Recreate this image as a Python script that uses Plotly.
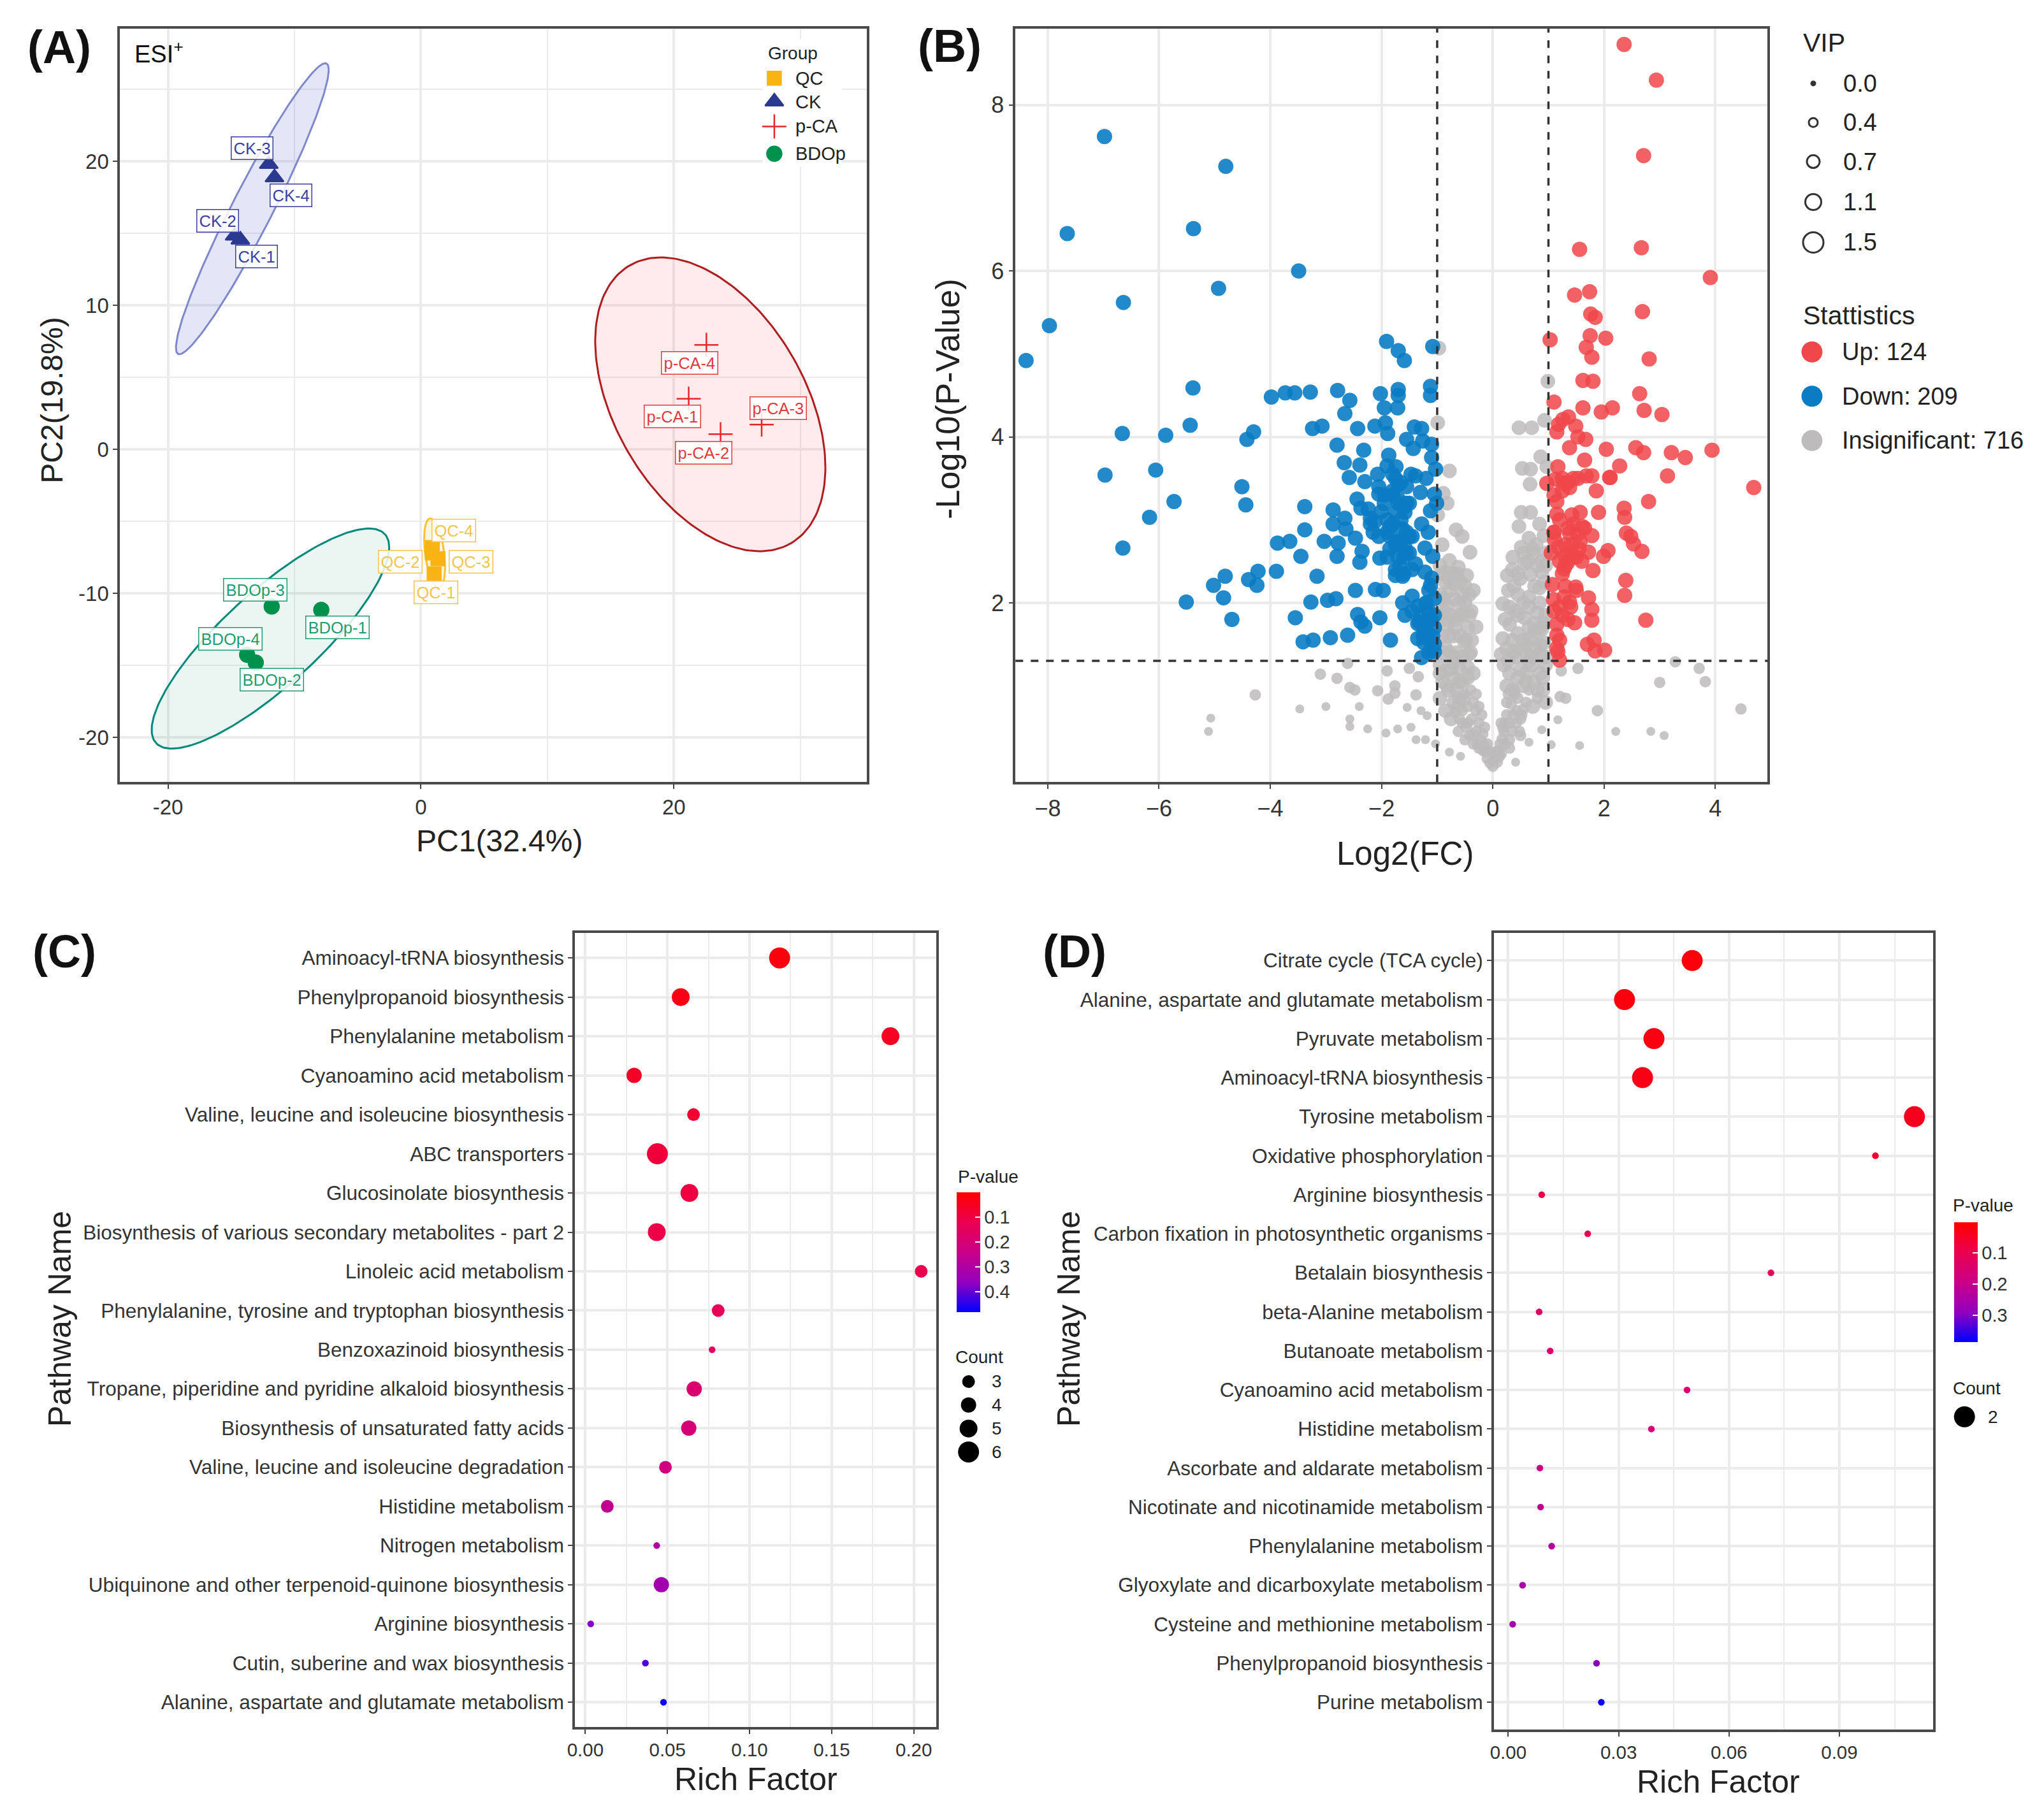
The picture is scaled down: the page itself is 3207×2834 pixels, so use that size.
import numpy as np
import plotly.graph_objects as go

W, H = 3207, 2834
S = W / 1568.0   # positions below are measured on a 1568 wide view
VH = H / S
FONT = "Liberation Sans"

# ---- panel A: PCA scores
pca_groups = ["QC", "CK", "p-CA", "BDOp"]
pca_x = {"QC": [1.04, 0.90, 1.35, 0.90], "CK": [-14.28, -14.73, -12.03, -11.58],
         "p-CA": [21.17, 23.69, 26.94, 22.57], "BDOp": [-7.88, -13.06, -11.80, -13.74]}
pca_y = {"QC": [-8.65, -7.20, -7.60, -6.82], "CK": [14.54, 14.82, 19.80, 18.87],
         "p-CA": [3.51, 1.05, 1.72, 7.25], "BDOp": [-11.15, -14.81, -10.92, -14.27]}
# sample tag centres, tags are numbered 1..4
tag_x = {"QC": [1.17, -1.62, 3.96, 2.61], "CK": [-13.02, -16.08, -13.33, -10.27],
         "p-CA": [19.86, 22.34, 28.24, 21.26], "BDOp": [-6.58, -11.80, -13.10, -15.05]}
tag_y = {"QC": [-9.94, -7.80, -7.80, -5.65], "CK": [13.37, 15.87, 20.90, 17.62],
         "p-CA": [2.30, -0.23, 2.85, 6.00], "BDOp": [-12.36, -15.98, -9.75, -13.14]}
# confidence ellipses: centre x, centre y, sd x, sd y, correlation
ellipses = {"QC": (1.08, -7.2, 0.83, 2.4, -0.4), "CK": (-13.33, 16.7, 6.04, 10.1, 0.955),
            "p-CA": (22.88, 3.12, 9.1, 10.2, -0.43), "BDOp": (-11.9, -13.14, 9.39, 7.64, 0.83)}
group_col = {"QC": "#F9B414", "CK": "#2B3990", "p-CA": "#E8262A", "BDOp": "#00914C"}
group_sym = {"QC": "square", "CK": "triangle-up", "p-CA": "cross-thin", "BDOp": "circle"}
group_size = {"QC": 21, "CK": 25, "p-CA": 27, "BDOp": 23}
ell_line = {"QC": "#F9C233", "CK": "#8088CC", "p-CA": "#B01C20", "BDOp": "#00897B"}
ell_fill = {"QC": "rgba(249,194,51,0.18)", "CK": "rgba(90,105,205,0.17)",
            "p-CA": "rgba(255,100,100,0.13)", "BDOp": "rgba(0,130,90,0.08)"}
tag_col = {"QC": "#F2C44C", "CK": "#3A3F9E", "p-CA": "#E03A3E", "BDOp": "#1E9E70"}

# ---- panel B: volcano
down_x = [-6.98, -4.80, -7.65, -5.38, -3.49, -4.93, -6.64, -7.97, -8.39, -5.39, -5.44, -6.66, -5.88, -6.06, -6.97,
          -5.73, -6.17, -6.65, -4.51, -4.44, -4.30, -4.42, -3.98, -3.73, -3.56, -3.28, -3.38, -3.38, -3.87, -3.65,
          -3.03, -3.45, -3.89, -4.22, -4.39, -4.24, -4.81, -5.02, -4.84, -5.51, -4.69, -3.16, -3.27, -3.55, -3.41,
          -3.23, -2.92, -1.91, -1.70, -1.59, -1.08, -2.79, -2.57, -2.66, -2.02, -1.70, -1.70, -1.95, -1.71, -1.12,
          -1.12, -3.24, -3.07, -2.43, -2.12, -1.93, -1.89, -1.41, -1.28, -1.55, -1.26, -1.43, -1.10, -1.10, -1.03,
          -2.80, -2.32, -2.67, -2.39, -2.58, -2.30, -1.87, -2.07, -1.74, -1.47, -1.39, -2.05, -1.70, -1.70, -1.30,
          -1.05, -2.44, -2.37, -2.24, -2.87, -2.87, -2.66, -2.64, -2.12, -1.74, -1.58, -1.85, -1.62, -1.28, -1.16,
          -1.12, -1.01, -2.47, -2.78, -2.80, -2.35, -2.39, -2.03, -1.74, -1.58, -1.85, -1.22, -1.08, -1.67, -1.75,
          -1.62, -1.39, -1.22, -2.97, -2.82, -2.47, -2.11, -1.97, -2.43, -2.37, -2.30, -2.03, -2.61, -1.84, -1.62,
          -1.45, -1.35, -1.58, -1.12, -1.05, -1.20, -1.32, -1.12, -1.35, -1.08, -1.24, -1.28, -1.05, -2.20, -2.00,
          -1.95, -1.80, -1.55, -1.50, -1.90, -1.60, -1.45, -1.20, -1.15, -1.05,
          -1.90, -1.80, -1.75, -1.65, -1.55, -1.80, -1.70, -1.60, -1.50, -1.90, -1.80, -1.65, -1.55, -1.45, -1.85,
          -1.75, -1.65, -1.55, -1.90, -1.70, -1.50, -1.75, -1.60, -2.05, -1.95, -2.20, -2.15, -2.05, -1.20, -1.15,
          -1.10, -1.05, -1.15, -1.05, -1.25, -1.10, -1.30, -1.20, -1.10, -1.45, -1.35, -1.25, -1.15]
down_y = [7.62, 7.26, 6.45, 6.51, 6.00, 5.79, 5.62, 5.34, 4.92, 4.59, 4.14, 4.04, 4.02, 3.60, 3.54,
          3.22, 3.03, 2.66, 3.40, 3.18, 4.06, 3.97, 4.48, 4.53, 4.53, 4.54, 3.16, 2.88, 2.72, 2.74,
          2.74, 2.56, 2.38, 2.38, 2.28, 2.21, 2.32, 2.21, 2.06, 2.01, 1.80, 2.32, 2.01, 1.82, 1.53,
          1.55, 1.58, 5.15, 5.04, 4.92, 5.09, 4.56, 4.44, 4.28, 4.52, 4.57, 4.50, 4.35, 4.35, 4.61,
          4.50, 4.10, 4.13, 4.10, 4.13, 4.17, 4.04, 4.12, 4.10, 3.97, 3.95, 3.86, 3.91, 3.75, 3.61,
          3.90, 3.84, 3.69, 3.66, 3.51, 3.46, 3.78, 3.55, 3.64, 3.55, 3.53, 3.31, 3.42, 3.25, 3.33,
          3.31, 3.25, 3.14, 3.13, 3.12, 2.95, 3.02, 2.89, 2.98, 3.09, 3.09, 2.92, 2.89, 2.95, 2.85,
          3.11, 3.20, 2.78, 2.72, 2.56, 2.62, 2.49, 2.54, 2.73, 2.67, 2.65, 2.66, 2.56, 2.45, 2.33,
          2.32, 2.47, 2.37, 2.03, 2.05, 2.15, 2.16, 2.15, 1.86, 1.77, 1.72, 1.82, 1.61, 1.55, 2.00,
          2.08, 1.96, 1.85, 2.21, 2.05, 1.99, 1.77, 1.79, 1.57, 1.60, 1.52, 1.34, 1.41, 3.02, 3.10,
          3.20, 3.35, 3.20, 2.80, 2.85, 2.55, 2.40, 3.50, 2.15, 1.85,
          3.65, 3.55, 3.50, 3.45, 3.40, 3.30, 3.20, 3.15, 3.20, 3.00, 2.95, 3.00, 2.85, 2.80, 2.80,
          2.70, 2.75, 2.60, 2.55, 2.55, 2.60, 2.40, 2.35, 3.40, 3.30, 2.95, 2.85, 2.80, 2.00, 1.90,
          1.80, 1.70, 1.55, 1.50, 1.70, 2.30, 1.85, 1.65, 1.45, 1.90, 1.75, 1.60, 1.40]
up_x = [2.36, 2.94, 2.71, 1.56, 2.67, 3.91, 1.47, 1.74, 2.69, 1.76, 1.84, 1.75, 2.03, 1.03, 1.68, 1.78, 2.81, 1.62,
        1.80, 2.64, 1.10, 1.62, 1.95, 2.15, 2.72, 3.04, 2.57, 2.71, 2.04, 3.21, 3.46, 3.94, 4.69, 3.14, 2.28, 2.10,
        2.80, 2.36, 2.37, 2.40, 2.48, 2.53, 2.68, 2.39, 2.37, 2.75, 1.18, 1.26, 1.15, 1.36, 1.49, 1.53, 1.67, 1.38,
        1.65, 2.11, 1.17, 0.97, 1.13, 1.28, 1.53, 1.68, 1.78, 1.38, 1.86, 1.15, 1.15, 1.42, 1.57, 1.90, 1.61, 1.38,
        1.53, 1.78, 1.11, 1.18, 1.42, 1.57, 1.72, 2.07, 1.99, 1.30, 1.34, 1.28, 1.80, 1.07, 1.49, 1.09, 1.28, 1.20,
        1.38, 1.72, 1.78, 1.47, 1.78, 1.15, 1.15, 1.70, 1.82, 2.01, 1.84, 1.17, 1.20, 1.25, 1.35, 1.45, 1.10,
        1.25, 1.35, 1.45, 1.30, 1.40, 1.50, 1.60, 1.20, 1.30, 1.25, 1.35, 1.45, 1.55, 1.65, 1.30, 1.40, 1.50, 1.25,
        1.35, 1.20, 1.15, 1.10, 1.05, 1.10, 1.20, 1.10]
up_y = [8.73, 8.30, 7.39, 6.26, 6.28, 5.92, 5.71, 5.75, 5.51, 5.48, 5.44, 5.22, 5.19, 5.17, 5.08, 4.96, 4.94, 4.68,
        4.67, 4.52, 4.42, 4.35, 4.30, 4.35, 4.32, 4.27, 3.87, 3.81, 3.85, 3.81, 3.75, 3.84, 3.39, 3.53, 3.65, 3.51,
        3.22, 3.14, 3.03, 2.84, 2.80, 2.71, 2.62, 2.27, 2.09, 1.79, 4.15, 4.21, 4.06, 4.24, 4.13, 4.00, 3.97, 3.87,
        3.72, 3.51, 3.64, 3.44, 3.49, 3.44, 3.50, 3.53, 3.53, 3.39, 3.35, 3.22, 3.07, 3.06, 3.09, 3.09, 2.92, 2.84,
        2.83, 2.81, 2.76, 2.67, 2.70, 2.74, 2.61, 2.63, 2.56, 2.56, 2.48, 2.41, 2.39, 2.22, 2.19, 2.04, 2.07, 1.95,
        2.01, 2.06, 1.92, 1.76, 1.79, 1.74, 1.61, 1.50, 1.55, 1.43, 1.42, 1.41, 1.31, 3.35, 3.45, 2.55, 2.85,
        3.50, 3.45, 3.50, 2.70, 2.60, 2.55, 2.50, 2.50, 2.45, 2.35, 2.90, 2.95, 2.65, 2.90, 2.20, 1.95, 2.15, 1.85,
        1.80, 1.55, 1.45, 1.90, 2.60, 2.85, 3.00, 3.30]
# grey dots, by dot size
ns_big_x = [-0.97, 0.99, -0.99, 0.47, 0.70, 0.93, 0.86, 0.53, 0.68, 0.97, 0.67, -0.78, -0.89, -0.82, -0.99, -0.66,
            -0.55, -0.91, -0.41, -0.78, -0.62, -0.85, -0.47, -0.70, -0.35, -0.55, -0.82, -0.39, -0.62, -0.30, -0.82,
            -0.70, -0.51, -0.85, -0.43, -0.70, 0.51, 0.68, 0.47, 0.84, 0.92, 0.65, 0.51, 0.78, 0.36, 0.57, 0.88,
            0.26, 0.49, 0.68, 0.84, 0.18, 0.40, 0.65, 0.80, 0.57, 0.30, 0.88, 0.18, 0.45, 0.68, 0.92, 0.15, 0.38,
            0.61, 0.84, -0.95, -0.85, -0.90, -0.75, -0.80, -0.70, -0.65, -0.60, -0.70, -0.55, -0.60, -0.45, 0.50,
            0.55, 0.60, 0.70, 0.75, 0.85, 0.90, 0.95, 0.30, 0.25, -0.95, -0.88, 0.72, 0.95, 0.92, 0.75, 0.60,
            -0.95, -0.90, -0.85, -0.80, -0.72, -0.65, -0.58, -0.50, -0.42, -0.95, -0.88, -0.78, -0.70, -0.60, -0.50,
            -0.42, -0.95, -0.85, -0.75, -0.65, -0.55, -0.45, -0.38, -0.92, -0.80, -0.68, -0.58, -0.48, -0.40, -0.90,
            -0.78, -0.65, -0.55, -0.95, -0.82, -0.70, -0.60, -0.95, -0.85, -0.75, -0.62, -0.52, -0.45, -0.35,
            0.95, 0.88, 0.80, 0.72, 0.62, 0.55, 0.45, 0.35, 0.28, 0.92, 0.84, 0.75, 0.65, 0.55, 0.45, 0.38, 0.30,
            0.22, 0.95, 0.85, 0.75, 0.65, 0.55, 0.45, 0.35, 0.25, 0.95, 0.85, 0.75, 0.65, 0.50, 0.40, 0.28, 0.20,
            0.90, 0.80, 0.70, 0.60, 0.45, 0.35, 0.95, 0.72]
ns_big_y = [5.07, 4.67, 4.17, 4.11, 4.11, 4.20, 3.76, 3.62, 3.61, 3.64, 3.43, 3.59, 3.32, 3.20, 3.06, 2.88,
            2.80, 2.70, 2.61, 2.51, 2.43, 2.37, 2.33, 2.23, 2.15, 2.10, 1.96, 1.90, 1.85, 1.71, 1.74,
            1.60, 1.53, 1.46, 1.38, 1.35, 3.09, 3.09, 2.92, 2.95, 2.81, 2.78, 2.67, 2.70, 2.55, 2.47, 2.37,
            2.33, 2.29, 2.34, 2.18, 1.99, 1.90, 2.07, 1.88, 1.82, 1.74, 1.68, 1.57, 1.63, 1.57, 1.52, 1.38, 1.41,
            1.38, 1.38, 1.25, 1.18, 1.05, 1.20, 0.95, 1.10, 0.95, 1.20, 0.80, 1.05, 0.85, 1.10, 1.20,
            1.00, 1.15, 1.25, 1.05, 1.15, 0.95, 1.25, 1.15, 1.00, 2.05, 1.90, 2.65, 2.45, 1.75, 1.65, 1.50,
            2.45, 2.35, 2.25, 2.30, 2.35, 2.35, 2.25, 2.20, 2.10, 2.10, 2.05, 2.15, 2.05, 2.00, 2.00,
            1.85, 1.85, 1.80, 1.85, 1.80, 1.85, 1.70, 1.55, 1.60, 1.60, 1.70, 1.60, 1.55, 1.40, 1.40,
            1.40, 1.40, 1.35, 1.15, 1.00, 1.28, 1.05, 0.85, 0.70, 0.60, 0.75, 0.85, 1.22, 1.15,
            2.60, 2.50, 2.45, 2.60, 2.50, 2.60, 2.35, 2.40, 2.15, 2.25, 2.00, 2.20, 1.95, 2.00, 2.10, 2.20, 1.95,
            1.80, 1.85, 1.70, 1.75, 1.70, 1.55, 1.85, 1.55, 1.45, 1.35, 1.50, 1.45, 1.30, 1.45, 1.35, 1.30, 1.25,
            1.10, 0.95, 1.35, 1.05, 1.10, 0.95, 0.80, 0.75]
ns_mid_x = [-0.50, -0.55, -0.45, -0.40, -0.45, -0.35, -0.38, -0.30, -0.30, -0.25, -0.22, -0.18, -0.15, -0.12, -0.10,
            -0.05, 0.00, 0.03, 0.06, 0.10, 0.13, 0.17, 0.20, 0.22, 0.25, 0.30, 0.33, 0.36, 0.40, 0.43, 0.45, 0.50, 0.60,
            0.65, 0.80, 0.15, 0.08, -0.60, -0.68, -0.25, -0.35, 0.50, 0.55, 0.30, -3.10, -2.80, -2.61, -2.57, -2.48,
            -2.07, -1.90, -1.76, -1.76, -1.88, -1.50, -1.34, -1.38, -4.27, 1.23, 1.53, 3.28, 3.00, 3.71, 3.82, 4.46,
            1.31, 1.21, 1.88,
            -0.30, -0.20, -0.15, -0.10, -0.25, -0.08, 0.05, 0.12, 0.18, 0.25, 0.30, 0.38, -0.18, -0.28, -0.35, 0.15,
            0.22, 0.28, 0.35, 0.42, 0.48, 0.52, -0.42, -0.48, -0.55, -0.62, -0.50]
ns_mid_y = [0.90, 0.70, 0.75, 0.95, 0.55, 0.80, 0.60, 0.70, 0.45, 0.55, 0.35, 0.42, 0.28, 0.20, 0.12,
            0.07, 0.03, 0.10, 0.16, 0.22, 0.30, 0.36, 0.45, 0.55, 0.65, 0.55, 0.78, 0.65, 0.90, 0.70, 0.85, 0.60, 0.80,
            0.95, 0.85, 0.18, 0.08, 0.60, 0.68, 0.25, 0.30, 0.40, 0.72, 0.25, 1.14, 1.09, 1.27, 0.98, 0.95,
            0.94, 1.18, 1.00, 0.91, 0.84, 1.21, 1.11, 0.89, 0.89, 1.18, 1.21, 1.29, 1.04, 1.21, 1.05, 0.72,
            0.85, 0.87, 0.70,
            0.90, 0.65, 0.50, 0.30, 0.75, 0.22, 0.20, 0.15, 0.50, 0.80, 0.35, 0.95, 0.22, 0.30, 0.42, 0.55,
            0.30, 0.90, 0.45, 0.55, 0.45, 0.65, 0.40, 0.50, 0.55, 0.45, 0.35]
ns_small_x = [-3.47, -3.00, -2.40, -2.57, -2.57, -2.25, -1.92, -1.71, -1.47, -1.54, -1.29, -1.18, -5.07, -5.11, -1.38,
              -1.21, -1.03, -0.78, -0.58, 0.41, 0.65, 0.88, 1.05, 1.56, 1.17, 2.21, 2.84, 3.08]
ns_small_y = [0.72, 0.75, 0.75, 0.60, 0.51, 0.48, 0.43, 0.48, 0.50, 0.74, 0.70, 0.64, 0.61, 0.45, 0.35,
              0.35, 0.30, 0.20, 0.15, 0.08, 0.32, 0.47, 0.29, 0.28, 0.59, 0.45, 0.45, 0.40]
vip_labels = ["0.0", "0.4", "0.7", "1.1", "1.5"]
stat_labels = ["Up: 124", "Down: 209", "Insignificant: 716"]

# ---- panels C and D: enrichment
c_names = ["Aminoacyl-tRNA biosynthesis", "Phenylpropanoid biosynthesis", "Phenylalanine metabolism",
           "Cyanoamino acid metabolism", "Valine, leucine and isoleucine biosynthesis", "ABC transporters",
           "Glucosinolate biosynthesis", "Biosynthesis of various secondary metabolites - part 2",
           "Linoleic acid metabolism", "Phenylalanine, tyrosine and tryptophan biosynthesis",
           "Benzoxazinoid biosynthesis", "Tropane, piperidine and pyridine alkaloid biosynthesis",
           "Biosynthesis of unsaturated fatty acids", "Valine, leucine and isoleucine degradation",
           "Histidine metabolism", "Nitrogen metabolism", "Ubiquinone and other terpenoid-quinone biosynthesis",
           "Arginine biosynthesis", "Cutin, suberine and wax biosynthesis", "Alanine, aspartate and glutamate metabolism"]
c_rich = [0.1183, 0.0581, 0.1858, 0.0297, 0.0659, 0.0439, 0.0634, 0.0435, 0.2045, 0.0809,
          0.0772, 0.0663, 0.0630, 0.0488, 0.0134, 0.0435, 0.0463, 0.0033, 0.0366, 0.0476]
c_count = [6, 5, 5, 4, 3, 6, 5, 5, 3, 3, 2, 4, 4, 3, 3, 2, 4, 2, 2, 2]
c_pval = [0.02, 0.03, 0.05, 0.06, 0.08, 0.09, 0.10, 0.11, 0.12, 0.14,
          0.16, 0.18, 0.20, 0.22, 0.26, 0.30, 0.33, 0.37, 0.42, 0.47]
c_count_labels = [3, 4, 5, 6]
d_names = ["Citrate cycle (TCA cycle)", "Alanine, aspartate and glutamate metabolism", "Pyruvate metabolism",
           "Aminoacyl-tRNA biosynthesis", "Tyrosine metabolism", "Oxidative phosphorylation", "Arginine biosynthesis",
           "Carbon fixation in photosynthetic organisms", "Betalain biosynthesis", "beta-Alanine metabolism",
           "Butanoate metabolism", "Cyanoamino acid metabolism", "Histidine metabolism",
           "Ascorbate and aldarate metabolism", "Nicotinate and nicotinamide metabolism", "Phenylalanine metabolism",
           "Glyoxylate and dicarboxylate metabolism", "Cysteine and methionine metabolism",
           "Phenylpropanoid biosynthesis", "Purine metabolism"]
d_rich = [0.0500, 0.0316, 0.0396, 0.0365, 0.1104, 0.0998, 0.0091, 0.0216, 0.0714, 0.0084,
          0.0114, 0.0486, 0.0389, 0.0086, 0.0088, 0.0118, 0.0039, 0.0012, 0.0240, 0.0253]
d_big = [1, 1, 1, 1, 1, 0, 0, 0, 0, 0, 0, 0, 0, 0, 0, 0, 0, 0, 0, 0]
d_pval = [0.015, 0.02, 0.025, 0.03, 0.04, 0.06, 0.09, 0.10, 0.12, 0.125,
          0.14, 0.16, 0.17, 0.19, 0.21, 0.23, 0.25, 0.26, 0.30, 0.38]

# blue to red on the negated p value, the key runs red on top
P_SCALE = [[0, "#0000FF"], [0.25, "#9300BE"], [0.5, "#CA0088"], [0.75, "#EB004F"], [1, "#FF0000"]]
COUNT_PX = {2: 10.5, 3: 20, 4: 24, 5: 28, 6: 33}
GRID = "#EBEBEB"
FRAME = "#4A4A4A"
BLUE, RED, GREY = "#0A7CC4", "#F0474A", "#BDBBBB"


def px(x):
    return x / 1568.0


def py(y):
    return 1 - y / VH


fig = go.Figure()
ann = []


def text(x, y, s, size, color="#222222", anchor="left", **kw):
    ann.append(dict(x=px(x), y=py(y), xref="paper", yref="paper", text=s, showarrow=False,
                    xanchor=anchor, yanchor="middle", font=dict(family=FONT, size=size, color=color), **kw))


def base_axis(dom, rng, tick_size, **kw):
    ax = dict(domain=dom, range=rng, showline=True, mirror=True, linecolor=FRAME, linewidth=3.5,
              ticks="outside", ticklen=7, tickwidth=2, tickcolor="#444444", gridcolor=GRID, gridwidth=3.5,
              zeroline=False, showgrid=True, automargin=False,
              tickfont=dict(family=FONT, size=tick_size, color="#333333"))
    ax.update(kw)
    return ax


# panel A
t = np.linspace(0, 2 * np.pi, 200)
for g in pca_groups:
    cx, cy, sx, sy, rho = ellipses[g]
    fig.add_trace(go.Scatter(x=cx + sx * np.cos(t), y=cy + sy * (rho * np.cos(t) + np.sqrt(1 - rho ** 2) * np.sin(t)),
                             mode="lines", fill="toself", fillcolor=ell_fill[g], line=dict(color=ell_line[g], width=3),
                             hoverinfo="skip", showlegend=False, xaxis="x", yaxis="y"))
for g in pca_groups:
    fig.add_trace(go.Scatter(x=pca_x[g], y=pca_y[g], mode="markers", name=g, showlegend=False, xaxis="x", yaxis="y",
                             marker=dict(symbol=group_sym[g], size=group_size[g], color=group_col[g],
                                         line=dict(color=group_col[g], width=2.5))))
    for i in range(4):
        ann.append(dict(x=tag_x[g][i], y=tag_y[g][i], xref="x", yref="y", text=f"{g}-{i + 1}", showarrow=False,
                        font=dict(family=FONT, size=25.5, color=tag_col[g]), bgcolor="rgba(255,255,255,0.85)",
                        bordercolor=tag_col[g], borderwidth=1.5, borderpad=3))

# panel B
for xs, ys, size in [(ns_small_x, ns_small_y, 14), (ns_mid_x, ns_mid_y, 18), (ns_big_x, ns_big_y, 23)]:
    fig.add_trace(go.Scatter(x=xs, y=ys, mode="markers", showlegend=False, xaxis="x2", yaxis="y2",
                             marker=dict(size=size, color=GREY, opacity=0.85, line=dict(width=0))))
fig.add_trace(go.Scatter(x=down_x, y=down_y, mode="markers", showlegend=False, xaxis="x2", yaxis="y2",
                         marker=dict(size=24, color=BLUE, opacity=0.9, line=dict(width=0))))
fig.add_trace(go.Scatter(x=up_x, y=up_y, mode="markers", showlegend=False, xaxis="x2", yaxis="y2",
                         marker=dict(size=24, color=RED, opacity=0.85, line=dict(width=0))))
dash = dict(color="#333333", width=3.5, dash="12px,12px")
shapes = [dict(type="line", xref="x2", yref="y2 domain", x0=v, x1=v, y0=0, y1=1, line=dash) for v in (-1, 1)]
shapes.append(dict(type="line", xref="x2 domain", yref="y2", x0=0, x1=1, y0=1.3, y1=1.3, line=dash))


# panels C and D
def colorbar(x, top, bottom, ticks):
    return dict(x=px(x), xanchor="left", y=py(top), yanchor="top", lenmode="pixels", len=(bottom - top) * S,
                thicknessmode="pixels", thickness=18 * S, xpad=0, ypad=0, outlinewidth=0, ticks="inside", ticklen=8,
                tickcolor="white", tickwidth=2, tickvals=[-v for v in ticks], ticktext=[str(v) for v in ticks],
                tickprefix="\u00a0", tickfont=dict(family=FONT, size=29, color="#333333"))


fig.add_trace(go.Scatter(x=c_rich, y=c_names, mode="markers", showlegend=False, xaxis="x3", yaxis="y3",
                         marker=dict(size=[COUNT_PX[c] for c in c_count], color=[-p for p in c_pval], opacity=1,
                                     colorscale=P_SCALE, cmin=-0.484, cmax=0.0, line=dict(width=0),
                                     colorbar=colorbar(734, 915, 1007, [0.1, 0.2, 0.3, 0.4]))))
fig.add_trace(go.Scatter(x=d_rich, y=d_names, mode="markers", showlegend=False, xaxis="x4", yaxis="y4",
                         marker=dict(size=[33 if b else 10.5 for b in d_big], color=[-p for p in d_pval], opacity=1,
                                     colorscale=P_SCALE, cmin=-0.387, cmax=-0.004, line=dict(width=0),
                                     colorbar=colorbar(1499, 938, 1030, [0.1, 0.2, 0.3]))))

# legend keys sit on a hidden axis that spans the page in view pixels
key_x = [594, 594, 594, 594]
key_y = [60, 78, 97, 118]
fig.add_trace(go.Scatter(x=[585, 646, 646, 585, 585], y=[30, 30, 128, 128, 30], mode="lines", fill="toself",
                         fillcolor="white", line=dict(width=0), hoverinfo="skip", showlegend=False,
                         xaxis="x5", yaxis="y5"))
for i, g in enumerate(pca_groups):
    fig.add_trace(go.Scatter(x=[key_x[i]], y=[key_y[i]], mode="markers", showlegend=False, xaxis="x5", yaxis="y5",
                             hoverinfo="skip",
                             marker=dict(symbol=group_sym[g], size=group_size[g], color=group_col[g],
                                         line=dict(color=group_col[g], width=2.5))))
    text(609, key_y[i], g, 29)
text(588, 41, "Group", 28)

vip_y = [64, 94, 124, 155, 186]
vip_px = [6, 14, 20, 25, 32]
vip_fill = ["#333333"] + ["rgba(255,255,255,0)"] * 4
fig.add_trace(go.Scatter(x=[1391] * 5, y=vip_y, mode="markers", showlegend=False, xaxis="x5", yaxis="y5",
                         hoverinfo="skip",
                         marker=dict(size=vip_px, color=vip_fill, opacity=1, line=dict(color="#333333", width=3))))
text(1382, 33, "VIP", 41)
for y, s in zip(vip_y, vip_labels):
    text(1413, y, s, 38)
stat_y = [270, 304, 338]
fig.add_trace(go.Scatter(x=[1390] * 3, y=stat_y, mode="markers", showlegend=False, xaxis="x5", yaxis="y5",
                         hoverinfo="skip", marker=dict(size=33, color=[RED, BLUE, GREY], line=dict(width=0))))
text(1382, 242, "Stattistics", 41)
for y, s in zip(stat_y, stat_labels):
    text(1412, y, s, 38)

c_key_y = [1060, 1078, 1096, 1114]
fig.add_trace(go.Scatter(x=[743] * 4, y=c_key_y, mode="markers", showlegend=False, xaxis="x5", yaxis="y5",
                         hoverinfo="skip",
                         marker=dict(size=[COUNT_PX[c] for c in c_count_labels], color="black", opacity=1,
                                     line=dict(width=0))))
for y, c in zip(c_key_y, c_count_labels):
    text(760, y, str(c), 28)
text(732, 1041, "Count", 28)
text(734, 903, "P-value", 28)
fig.add_trace(go.Scatter(x=[1507], y=[1087], mode="markers", showlegend=False, xaxis="x5", yaxis="y5",
                         hoverinfo="skip", marker=dict(size=33, color="black", line=dict(width=0))))
text(1524, 1087, "2", 28)
text(1497, 1065, "Count", 28)
text(1497, 925, "P-value", 28)

text(20, 36, "<b>(A)</b>", 72, color="#111111")
text(703, 35, "<b>(B)</b>", 72, color="#111111")
text(24, 730, "<b>(C)</b>", 72, color="#111111")
text(799, 730, "<b>(D)</b>", 72, color="#111111")
text(102, 40, "ESI<sup>+</sup>", 38, color="#111111")

# axis titles, placed by hand so they land where the reference has them
text(383, 645, "PC1(32.4%)", 48, anchor="center")
text(40, 307, "PC2(19.8%)", 48, anchor="center", textangle=-90)
text(1078, 655, "Log2(FC)", 51, anchor="center")
text(727, 306, "-Log10(P-Value)", 52, anchor="center", textangle=-90)
text(580, 1365, "Rich Factor", 50, anchor="center")
text(46, 1012, "Pathway Name", 50, anchor="center", textangle=-90)
text(1318, 1367, "Rich Factor", 50, anchor="center")
text(820, 1012, "Pathway Name", 50, anchor="center", textangle=-90)

fig.update_layout(
    width=W, height=H, margin=dict(l=0, r=0, t=0, b=0), paper_bgcolor="white", plot_bgcolor="rgba(0,0,0,0)",
    showlegend=False, annotations=ann, shapes=shapes, font=dict(family=FONT),
    xaxis=base_axis([px(92), px(665)], [-23.8, 35.26], 33, anchor="y",
                    tickvals=[-20, 0, 20], ticktext=["-20", "0", "20"],
                    minor=dict(tickvals=[-10, 10, 30], showgrid=True, gridcolor=GRID, gridwidth=2, ticks="")),
    yaxis=base_axis([py(600), py(22)], [-23.1, 29.2], 33, anchor="x",
                    tickvals=[-20, -10, 0, 10, 20], ticktext=["-20", "-10", "0", "10", "20"],
                    minor=dict(tickvals=[-15, -5, 5, 15, 25], showgrid=True, gridcolor=GRID, gridwidth=2, ticks="")),
    xaxis2=base_axis([px(779), px(1356)], [-8.58, 4.94], 36, anchor="y2", tickvals=[-8, -6, -4, -2, 0, 2, 4]),
    yaxis2=base_axis([py(600), py(22)], [-0.16, 8.92], 36, anchor="x2", tickvals=[2, 4, 6, 8]),
    xaxis3=base_axis([px(441), px(718)], [-0.00635, 0.2135], 29.5, anchor="y3",
                     tickvals=[0, 0.05, 0.10, 0.15, 0.20], ticktext=["0.00", "0.05", "0.10", "0.15", "0.20"],
                     minor=dict(tickvals=[0.025, 0.075, 0.125, 0.175], showgrid=True, gridcolor=GRID, gridwidth=2, ticks="")),
    yaxis3=base_axis([py(1325), py(716)], [19.63, -0.63], 31.5, anchor="x3",
                     type="category", categoryorder="array", categoryarray=c_names),
    xaxis4=base_axis([px(1146), px(1483)], [-0.0039, 0.1155], 29.5, anchor="y4",
                     tickvals=[0, 0.03, 0.06, 0.09], ticktext=["0.00", "0.03", "0.06", "0.09"],
                     minor=dict(tickvals=[0.015, 0.045, 0.075, 0.105], showgrid=True, gridcolor=GRID, gridwidth=2, ticks="")),
    yaxis4=base_axis([py(1327), py(716)], [19.7, -0.7], 31.5, anchor="x4",
                     type="category", categoryorder="array", categoryarray=d_names),
    xaxis5=dict(domain=[0, 1], range=[0, 1568], visible=False, anchor="y5", fixedrange=True),
    yaxis5=dict(domain=[0, 1], range=[VH, 0], visible=False, anchor="x5", fixedrange=True),
)

# the page margin would push the plot off its measured position
fig.write_html("out.html", config={"displayModeBar": False}, post_script="document.body.style.margin='0';")
